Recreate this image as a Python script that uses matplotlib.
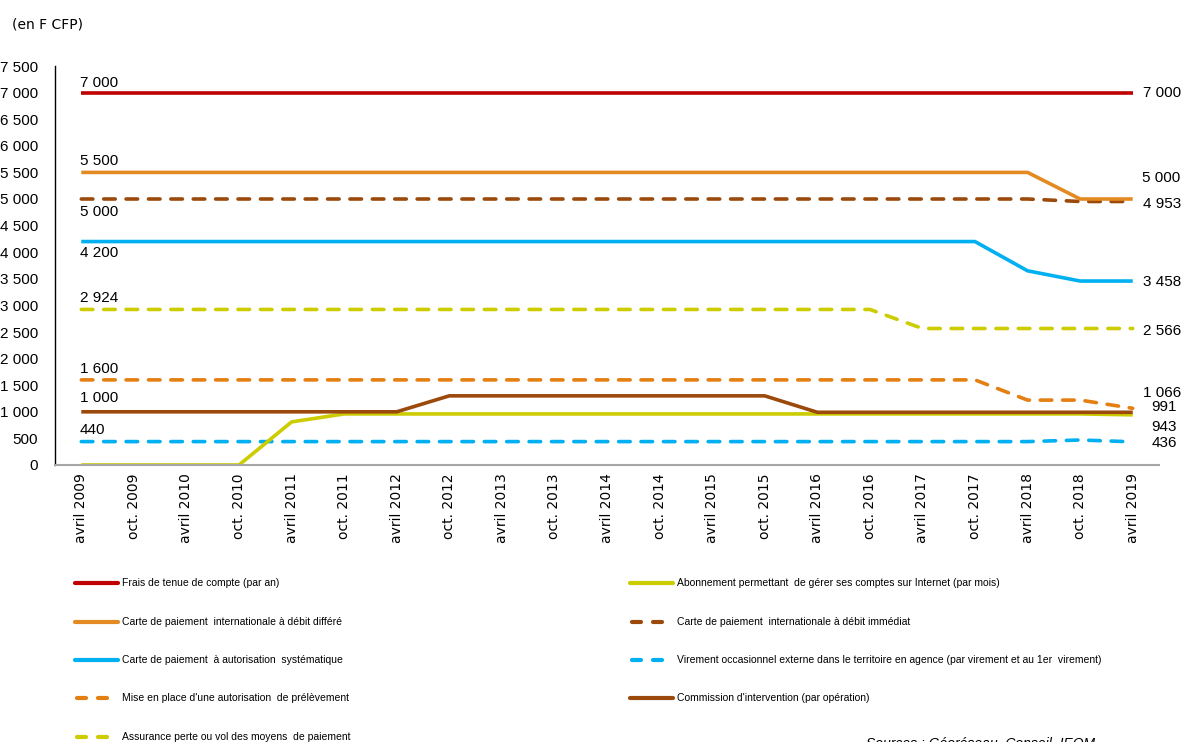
import matplotlib as mpl
mpl.use('Agg')
import matplotlib.pyplot as plt
from matplotlib.ticker import FuncFormatter

NARROW = ['Liberation Sans', 'DejaVu Sans']

periods = ['avril 2009', 'oct. 2009', 'avril 2010', 'oct. 2010', 'avril 2011', 'oct. 2011',
           'avril 2012', 'oct. 2012', 'avril 2013', 'oct. 2013', 'avril 2014', 'oct. 2014',
           'avril 2015', 'oct. 2015', 'avril 2016', 'oct. 2016', 'avril 2017', 'oct. 2017',
           'avril 2018', 'oct. 2018', 'avril 2019']

frais_tenue = [7000] * 21
carte_differe = [5500] * 19 + [5000, 5000]
carte_immediat = [5000] * 19 + [4953, 4953]
carte_autorisation = [4200] * 18 + [3650, 3458, 3458]
assurance = [2924] * 16 + [2566] * 5
prelevement = [1600] * 18 + [1220, 1220, 1066]
commission = [1000] * 7 + [1300] * 7 + [991] * 7
abonnement = [0, 0, 0, 0, 810, 960] + [960] * 14 + [943]
virement = [440] * 19 + [470, 436]

# label, values, colour, dashed, left label (text, dy pt), right label (text, dx pt, dy pt)
series = [
    ('Frais de tenue de compte (par an)', frais_tenue, '#C00000', False,
     ('7 000', 7), ('7 000', 35, 0)),
    ('Carte de paiement  internationale à débit différé', carte_differe, '#E48A22', False,
     ('5 500', 8.5), ('5 000', 34, 15)),
    ('Carte de paiement  à autorisation  systématique', carte_autorisation, '#00B0F0', False,
     ('4 200', -8), ('3 458', 35, -1)),
    ("Mise en place d'une autorisation  de prélèvement", prelevement, '#E47F12', True,
     ('1 600', 8), ('1 066', 35, 11)),
    ('Assurance perte ou vol des moyens  de paiement', assurance, '#CCCC00', True,
     ('2 924', 8), ('2 566', 35, -1.5)),
    ('Abonnement permettant  de gérer ses comptes sur Internet (par mois)', abonnement, '#CCCC00', False,
     None, ('943', 32, -9)),
    ('Carte de paiement  internationale à débit immédiat', carte_immediat, '#9C4A0C', True,
     ('5 000', -9.5), ('4 953', 35, -1.5)),
    ('Virement occasionnel externe dans le territoire en agence (par virement et au 1er  virement)', virement, '#00B0F0', True,
     ('440', 8), ('436', 32, -1)),
    ("Commission d'intervention (par opération)", commission, '#9C4A0C', False,
     ('1 000', 10), ('991', 32, 3.5)),
]

W, H = 1184, 742
fig = plt.figure(figsize=(W / 100, H / 100), dpi=100)
ax = fig.add_axes([55 / W, 1 - 465 / H, (1159 - 55) / W, (465 - 66) / H])

x = list(range(len(periods)))
draw_order = [4, 3, 7, 6, 0, 1, 2, 5, 8]
for i in draw_order:
    name, vals, col, dashed, _, _ = series[i]
    if dashed:
        ax.plot(x, vals, color=col, lw=2.6, dashes=(3.2, 3.0), dash_capstyle='round')
    else:
        ax.plot(x, vals, color=col, lw=2.6, solid_capstyle='butt')

for name, vals, col, dashed, left, right in series:
    if left:
        ax.annotate(left[0], (0, vals[0]), xytext=(-1, left[1]), textcoords='offset points',
                    ha='left', va='center', fontsize=11, family=NARROW)
    if right:
        ax.annotate(right[0], (len(vals) - 1, vals[-1]), xytext=(right[1], right[2]),
                    textcoords='offset points', ha='right', va='center',
                    fontsize=11, family=NARROW, annotation_clip=False)

ax.set_xlim(-0.5, len(periods) - 0.5)
ax.set_ylim(0, 7500)
ax.set_yticks(range(0, 7501, 500))
ax.yaxis.set_major_formatter(FuncFormatter(lambda v, p: f'{int(v):,}'.replace(',', ' ')))
ax.set_xticks(x)
ax.set_xticklabels(periods, rotation=90, fontsize=10)
for lab in ax.get_yticklabels():
    lab.set_family(NARROW)
    lab.set_fontsize(11)
ax.tick_params(axis='y', length=0, pad=12)
ax.tick_params(axis='x', length=0, pad=6)
ax.spines['top'].set_visible(False)
ax.spines['right'].set_visible(False)
ax.spines['left'].set_color('black')
ax.spines['left'].set_linewidth(1.0)
ax.spines['bottom'].set_color('#A6A6A6')
ax.spines['bottom'].set_linewidth(1.5)

fig.text(12 / W, 1 - 25 / H, '(en F CFP)', fontsize=10, va='center', ha='left')

# legend drawn by hand, two columns
lg = fig.add_axes([0, 0, 1, 1], zorder=-1)
lg.set_xlim(0, W)
lg.set_ylim(H, 0)
lg.axis('off')
rows_left = [583, 622, 660, 698, 737]
rows_right = [583, 622, 660, 698]
slots = [(75, y) for y in rows_left] + [(630, y) for y in rows_right]
for (name, vals, col, dashed, _, _), (lx, ly) in zip(series, slots):
    if dashed:
        lg.plot([lx + 2, lx + 11], [ly, ly], color=col, lw=3, solid_capstyle='round')
        lg.plot([lx + 23, lx + 32], [ly, ly], color=col, lw=3, solid_capstyle='round')
    else:
        lg.plot([lx, lx + 43], [ly, ly], color=col, lw=3, solid_capstyle='round')
    lg.text(lx + 47, ly, name, fontsize=7.5, family=NARROW, va='center', ha='left')

fig.text(866 / W, 1 - 737 / H, 'Sources : Géoréseau, Conseil, IEOM', fontsize=10,
         style='italic', family=NARROW, va='top', ha='left')

fig.savefig('out.png', dpi=100)
